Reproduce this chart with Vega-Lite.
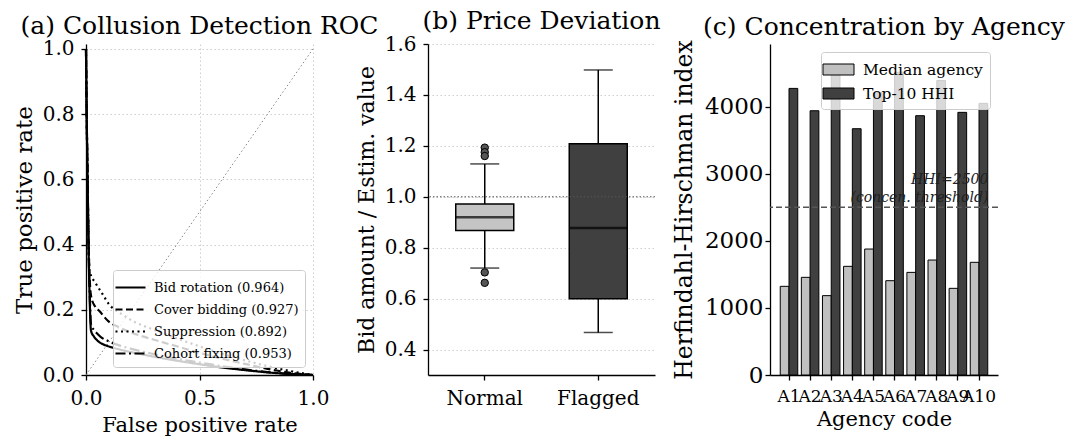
{
  "$schema": "https://vega.github.io/schema/vega-lite/v6.json",
  "padding": {"left": 13, "top": 9, "right": 5, "bottom": 2},
  "bounds": "flush",
  "spacing": 115,
  "resolve": {"scale": {"strokeDash": "independent", "fill": "independent"}, "legend": {"strokeDash": "independent", "fill": "independent"}},
  "config": {
    "font": "DejaVu Serif",
    "view": {"stroke": null},
    "title": {"font": "DejaVu Serif", "fontSize": 25, "fontWeight": "normal", "color": "#000", "offset": 4, "dy": 4, "anchor": "middle"},
    "legend": {"labelFont": "DejaVu Serif"},
    "axis": {
      "labelFont": "DejaVu Serif", "titleFont": "DejaVu Serif",
      "domainColor": "#000", "domainWidth": 1.3, "tickColor": "#000", "tickWidth": 1.3, "tickSize": 5,
      "labelFontSize": 20, "labelColor": "#000", "labelPadding": 7,
      "titleFontSize": 21, "titleFontWeight": "normal", "titleColor": "#000",
      "gridColor": "#c8c8c8", "gridDash": [1.5, 2.5], "gridWidth": 0.9
    }
  },
  "datasets": {
    "diag": [{"fpr": 0, "tpr": 0}, {"fpr": 1, "tpr": 1}],
    "roc": [
      {"method": "Bid rotation (0.964)", "fpr": 0, "tpr": 1.0},
      {"method": "Bid rotation (0.964)", "fpr": 0.003, "tpr": 0.8},
      {"method": "Bid rotation (0.964)", "fpr": 0.007, "tpr": 0.6},
      {"method": "Bid rotation (0.964)", "fpr": 0.011, "tpr": 0.4},
      {"method": "Bid rotation (0.964)", "fpr": 0.016, "tpr": 0.24},
      {"method": "Bid rotation (0.964)", "fpr": 0.022, "tpr": 0.136},
      {"method": "Bid rotation (0.964)", "fpr": 0.035, "tpr": 0.118},
      {"method": "Bid rotation (0.964)", "fpr": 0.051, "tpr": 0.105},
      {"method": "Bid rotation (0.964)", "fpr": 0.07, "tpr": 0.096},
      {"method": "Bid rotation (0.964)", "fpr": 0.095, "tpr": 0.089},
      {"method": "Bid rotation (0.964)", "fpr": 0.15, "tpr": 0.078},
      {"method": "Bid rotation (0.964)", "fpr": 0.2, "tpr": 0.07},
      {"method": "Bid rotation (0.964)", "fpr": 0.3, "tpr": 0.056},
      {"method": "Bid rotation (0.964)", "fpr": 0.4, "tpr": 0.044},
      {"method": "Bid rotation (0.964)", "fpr": 0.5, "tpr": 0.033},
      {"method": "Bid rotation (0.964)", "fpr": 0.6, "tpr": 0.023},
      {"method": "Bid rotation (0.964)", "fpr": 0.7, "tpr": 0.015},
      {"method": "Bid rotation (0.964)", "fpr": 0.8, "tpr": 0.008},
      {"method": "Bid rotation (0.964)", "fpr": 0.9, "tpr": 0.003},
      {"method": "Bid rotation (0.964)", "fpr": 1.0, "tpr": 0.0},
      {"method": "Cover bidding (0.927)", "fpr": 0, "tpr": 1.0},
      {"method": "Cover bidding (0.927)", "fpr": 0.003, "tpr": 0.8},
      {"method": "Cover bidding (0.927)", "fpr": 0.007, "tpr": 0.6},
      {"method": "Cover bidding (0.927)", "fpr": 0.011, "tpr": 0.42},
      {"method": "Cover bidding (0.927)", "fpr": 0.016, "tpr": 0.3},
      {"method": "Cover bidding (0.927)", "fpr": 0.022, "tpr": 0.243},
      {"method": "Cover bidding (0.927)", "fpr": 0.04, "tpr": 0.21},
      {"method": "Cover bidding (0.927)", "fpr": 0.058, "tpr": 0.197},
      {"method": "Cover bidding (0.927)", "fpr": 0.095, "tpr": 0.167},
      {"method": "Cover bidding (0.927)", "fpr": 0.15, "tpr": 0.145},
      {"method": "Cover bidding (0.927)", "fpr": 0.2, "tpr": 0.13},
      {"method": "Cover bidding (0.927)", "fpr": 0.3, "tpr": 0.108},
      {"method": "Cover bidding (0.927)", "fpr": 0.4, "tpr": 0.088},
      {"method": "Cover bidding (0.927)", "fpr": 0.5, "tpr": 0.068},
      {"method": "Cover bidding (0.927)", "fpr": 0.6, "tpr": 0.05},
      {"method": "Cover bidding (0.927)", "fpr": 0.7, "tpr": 0.034},
      {"method": "Cover bidding (0.927)", "fpr": 0.8, "tpr": 0.019},
      {"method": "Cover bidding (0.927)", "fpr": 0.9, "tpr": 0.007},
      {"method": "Cover bidding (0.927)", "fpr": 1.0, "tpr": 0.0},
      {"method": "Suppression (0.892)", "fpr": 0, "tpr": 1.0},
      {"method": "Suppression (0.892)", "fpr": 0.003, "tpr": 0.8},
      {"method": "Suppression (0.892)", "fpr": 0.007, "tpr": 0.6},
      {"method": "Suppression (0.892)", "fpr": 0.011, "tpr": 0.43},
      {"method": "Suppression (0.892)", "fpr": 0.015, "tpr": 0.32},
      {"method": "Suppression (0.892)", "fpr": 0.044, "tpr": 0.28},
      {"method": "Suppression (0.892)", "fpr": 0.073, "tpr": 0.248},
      {"method": "Suppression (0.892)", "fpr": 0.1, "tpr": 0.218},
      {"method": "Suppression (0.892)", "fpr": 0.15, "tpr": 0.19},
      {"method": "Suppression (0.892)", "fpr": 0.2, "tpr": 0.168},
      {"method": "Suppression (0.892)", "fpr": 0.3, "tpr": 0.138},
      {"method": "Suppression (0.892)", "fpr": 0.4, "tpr": 0.112},
      {"method": "Suppression (0.892)", "fpr": 0.5, "tpr": 0.088},
      {"method": "Suppression (0.892)", "fpr": 0.6, "tpr": 0.065},
      {"method": "Suppression (0.892)", "fpr": 0.7, "tpr": 0.045},
      {"method": "Suppression (0.892)", "fpr": 0.8, "tpr": 0.027},
      {"method": "Suppression (0.892)", "fpr": 0.9, "tpr": 0.012},
      {"method": "Suppression (0.892)", "fpr": 1.0, "tpr": 0.0},
      {"method": "Cohort fixing (0.953)", "fpr": 0, "tpr": 1.0},
      {"method": "Cohort fixing (0.953)", "fpr": 0.003, "tpr": 0.8},
      {"method": "Cohort fixing (0.953)", "fpr": 0.007, "tpr": 0.6},
      {"method": "Cohort fixing (0.953)", "fpr": 0.011, "tpr": 0.41},
      {"method": "Cohort fixing (0.953)", "fpr": 0.016, "tpr": 0.26},
      {"method": "Cohort fixing (0.953)", "fpr": 0.022, "tpr": 0.156},
      {"method": "Cohort fixing (0.953)", "fpr": 0.035, "tpr": 0.138},
      {"method": "Cohort fixing (0.953)", "fpr": 0.051, "tpr": 0.126},
      {"method": "Cohort fixing (0.953)", "fpr": 0.07, "tpr": 0.114},
      {"method": "Cohort fixing (0.953)", "fpr": 0.095, "tpr": 0.105},
      {"method": "Cohort fixing (0.953)", "fpr": 0.15, "tpr": 0.09},
      {"method": "Cohort fixing (0.953)", "fpr": 0.2, "tpr": 0.08},
      {"method": "Cohort fixing (0.953)", "fpr": 0.3, "tpr": 0.064},
      {"method": "Cohort fixing (0.953)", "fpr": 0.4, "tpr": 0.05},
      {"method": "Cohort fixing (0.953)", "fpr": 0.5, "tpr": 0.038},
      {"method": "Cohort fixing (0.953)", "fpr": 0.6, "tpr": 0.027},
      {"method": "Cohort fixing (0.953)", "fpr": 0.7, "tpr": 0.017},
      {"method": "Cohort fixing (0.953)", "fpr": 0.8, "tpr": 0.009},
      {"method": "Cohort fixing (0.953)", "fpr": 0.9, "tpr": 0.003},
      {"method": "Cohort fixing (0.953)", "fpr": 1.0, "tpr": 0.0}
    ],
    "boxes": [
      {"group": "Normal", "lo": 0.72, "q1": 0.868, "med": 0.92, "q3": 0.972, "hi": 1.129},
      {"group": "Flagged", "lo": 0.467, "q1": 0.599, "med": 0.877, "q3": 1.208, "hi": 1.498}
    ],
    "outliers": [
      {"group": "Normal", "v": 1.193},
      {"group": "Normal", "v": 1.175},
      {"group": "Normal", "v": 1.16},
      {"group": "Normal", "v": 0.703},
      {"group": "Normal", "v": 0.662}
    ],
    "hhi": [
      {"agency": "A1", "series": "Median agency", "value": 1322},
      {"agency": "A1", "series": "Top-10 HHI", "value": 4273},
      {"agency": "A2", "series": "Median agency", "value": 1456},
      {"agency": "A2", "series": "Top-10 HHI", "value": 3940},
      {"agency": "A3", "series": "Median agency", "value": 1183},
      {"agency": "A3", "series": "Top-10 HHI", "value": 4540},
      {"agency": "A4", "series": "Median agency", "value": 1620},
      {"agency": "A4", "series": "Top-10 HHI", "value": 3672},
      {"agency": "A5", "series": "Median agency", "value": 1878},
      {"agency": "A5", "series": "Top-10 HHI", "value": 4210},
      {"agency": "A6", "series": "Median agency", "value": 1406},
      {"agency": "A6", "series": "Top-10 HHI", "value": 4515},
      {"agency": "A7", "series": "Median agency", "value": 1530},
      {"agency": "A7", "series": "Top-10 HHI", "value": 3866},
      {"agency": "A8", "series": "Median agency", "value": 1714},
      {"agency": "A8", "series": "Top-10 HHI", "value": 4390},
      {"agency": "A9", "series": "Median agency", "value": 1292},
      {"agency": "A9", "series": "Top-10 HHI", "value": 3916},
      {"agency": "A10", "series": "Median agency", "value": 1680},
      {"agency": "A10", "series": "Top-10 HHI", "value": 4050}
    ],
    "thresh": [
      {"agency": "A10", "series": "Top-10 HHI", "t": 2500, "label": "HHI=2500\n(concen. threshold)"}
    ]
  },
  "hconcat": [
    {
      "width": 227,
      "height": 331,
      "title": "(a) Collusion Detection ROC",
      "layer": [
        {
          "data": {"name": "diag"},
          "mark": {"type": "line", "color": "#888", "strokeDash": [1.5, 2.5], "strokeWidth": 1},
          "encoding": {
            "x": {"field": "fpr", "type": "quantitative", "scale": {"domain": [0, 1], "nice": false},
                  "axis": {"values": [0, 0.5, 1], "format": ".1f", "grid": true, "title": "False positive rate", "labelFlush": false, "labelPadding": 8, "titlePadding": 6}},
            "y": {"field": "tpr", "type": "quantitative", "scale": {"domain": [0, 1.015], "nice": false},
                  "axis": {"values": [0, 0.2, 0.4, 0.6, 0.8, 1.0], "format": ".1f", "grid": true, "title": "True positive rate", "titleFontSize": 23, "titlePadding": 6, "labelFlush": false}}
          }
        },
        {
          "data": {"name": "roc"},
          "mark": {"type": "line", "color": "#000", "strokeWidth": 2.2, "interpolate": "monotone"},
          "encoding": {
            "x": {"field": "fpr", "type": "quantitative"},
            "y": {"field": "tpr", "type": "quantitative"},
            "strokeDash": {
              "field": "method", "type": "nominal",
              "scale": {"domain": ["Bid rotation (0.964)", "Cover bidding (0.927)", "Suppression (0.892)", "Cohort fixing (0.953)"],
                        "range": [[1, 0], [7, 3.5], [2, 3.5], [10, 3.5, 2, 3.5]]},
              "legend": {"orient": "bottom-right", "offset": 8, "title": null, "fillColor": "rgba(255,255,255,0.8)", "strokeColor": "#ccc",
                         "padding": 6, "cornerRadius": 3, "labelFontSize": 13, "labelColor": "#000", "labelFont": "DejaVu Serif",
                         "symbolType": "M-1.5,0H1.5", "symbolSize": 400,
                         "symbolStrokeWidth": 2.2, "symbolStrokeColor": "#000", "rowPadding": 3, "labelLimit": 300, "labelOffset": 12}
            }
          }
        }
      ]
    },
    {
      "width": 227,
      "height": 331,
      "title": "(b) Price Deviation",
      "data": {"name": "boxes"},
      "layer": [
        {
          "mark": {"type": "rule", "color": "#000", "strokeWidth": 1.5},
          "encoding": {
            "x": {"field": "group", "type": "nominal", "sort": ["Normal", "Flagged"],
                  "scale": {"domain": ["Normal", "Flagged"], "paddingInner": 0, "paddingOuter": 0},
                  "axis": {"title": null, "labelAngle": 0, "labelPadding": 8}},
            "y": {"field": "lo", "type": "quantitative", "scale": {"domain": [0.3, 1.6], "nice": false},
                  "axis": {"values": [0.4, 0.6, 0.8, 1.0, 1.2, 1.4, 1.6], "format": ".1f", "grid": true, "title": "Bid amount / Estim. value", "titleFontSize": 22, "titlePadding": 6, "labelFlush": false}},
            "y2": {"field": "hi"}
          }
        },
        {
          "mark": {"type": "bar", "size": 58, "stroke": "#000", "strokeWidth": 1.5},
          "encoding": {
            "x": {"field": "group", "type": "nominal"},
            "y": {"field": "q1", "type": "quantitative"},
            "y2": {"field": "q3"},
            "fill": {"field": "group", "type": "nominal", "scale": {"domain": ["Normal", "Flagged"], "range": ["#c4c4c4", "#404040"]}, "legend": null}
          }
        },
        {
          "mark": {"type": "tick", "color": "#000", "size": 58, "thickness": 2.5},
          "encoding": {"x": {"field": "group", "type": "nominal"}, "y": {"field": "med", "type": "quantitative"}}
        },
        {
          "mark": {"type": "tick", "color": "#000", "size": 29, "thickness": 1.5},
          "encoding": {"x": {"field": "group", "type": "nominal"}, "y": {"field": "lo", "type": "quantitative"}}
        },
        {
          "mark": {"type": "tick", "color": "#000", "size": 29, "thickness": 1.5},
          "encoding": {"x": {"field": "group", "type": "nominal"}, "y": {"field": "hi", "type": "quantitative"}}
        },
        {
          "data": {"name": "outliers"},
          "mark": {"type": "point", "filled": true, "fill": "#555", "stroke": "#000", "strokeWidth": 1, "size": 55, "opacity": 1},
          "encoding": {"x": {"field": "group", "type": "nominal"}, "y": {"field": "v", "type": "quantitative"}}
        },
        {
          "data": {"values": [{"ref": 1.0}]},
          "mark": {"type": "rule", "color": "#555", "strokeDash": [1.5, 2], "strokeWidth": 1},
          "encoding": {"y": {"field": "ref", "type": "quantitative"}}
        }
      ]
    },
    {
      "width": 228,
      "height": 331,
      "title": "(c) Concentration by Agency",
      "layer": [
        {
          "data": {"name": "hhi"},
          "mark": {"type": "bar", "stroke": "#000", "strokeWidth": 1},
          "encoding": {
            "x": {"field": "agency", "type": "nominal", "sort": ["A1", "A2", "A3", "A4", "A5", "A6", "A7", "A8", "A9", "A10"],
                  "scale": {"domain": ["A1", "A2", "A3", "A4", "A5", "A6", "A7", "A8", "A9", "A10"], "paddingInner": 0.17, "paddingOuter": 0.485},
                  "axis": {"title": "Agency code", "labelAngle": 0, "labelOverlap": false, "labelBound": false, "labelFontSize": 17, "labelPadding": 8, "titlePadding": 4}},
            "xOffset": {"field": "series", "type": "nominal", "scale": {"domain": ["Median agency", "Top-10 HHI"], "paddingInner": 0, "paddingOuter": 0}},
            "y": {"field": "value", "type": "quantitative", "scale": {"domain": [0, 4935], "nice": false},
                  "axis": {"values": [0, 1000, 2000, 3000, 4000], "format": "d", "grid": false, "title": "Herfindahl-Hirschman index", "titleFontSize": 23.5, "labelFontSize": 23, "labelPadding": 2, "titlePadding": 8, "labelFlush": false}},
            "fill": {"field": "series", "type": "nominal", "scale": {"domain": ["Median agency", "Top-10 HHI"], "range": ["#c0c0c0", "#404040"]},
                     "legend": {"orient": "top-right", "offset": 8, "title": null, "fillColor": "rgba(255,255,255,0.8)", "strokeColor": "#ccc",
                                "padding": 7, "cornerRadius": 3, "labelFontSize": 15.5, "labelColor": "#000", "labelFont": "DejaVu Serif",
                                "symbolType": "M-1.55,-0.55H1.55V0.55H-1.55Z", "symbolSize": 400, "symbolStrokeColor": "#000", "symbolStrokeWidth": 1,
                                "rowPadding": 5, "labelOffset": 14, "labelLimit": 300}}
          }
        },
        {
          "data": {"name": "thresh"},
          "mark": {"type": "rule", "color": "#555", "strokeDash": [6, 3], "strokeWidth": 1.5},
          "encoding": {"y": {"field": "t", "type": "quantitative"}}
        },
        {
          "data": {"name": "thresh"},
          "mark": {"type": "text", "align": "right", "baseline": "bottom", "dy": -20, "dx": 5, "fontStyle": "italic", "fontSize": 14, "color": "#222", "lineBreak": "\n", "lineHeight": 18},
          "encoding": {
            "x": {"field": "agency", "type": "nominal"},
            "xOffset": {"field": "series", "type": "nominal"},
            "y": {"field": "t", "type": "quantitative"},
            "text": {"field": "label"}
          }
        }
      ]
    }
  ]
}
